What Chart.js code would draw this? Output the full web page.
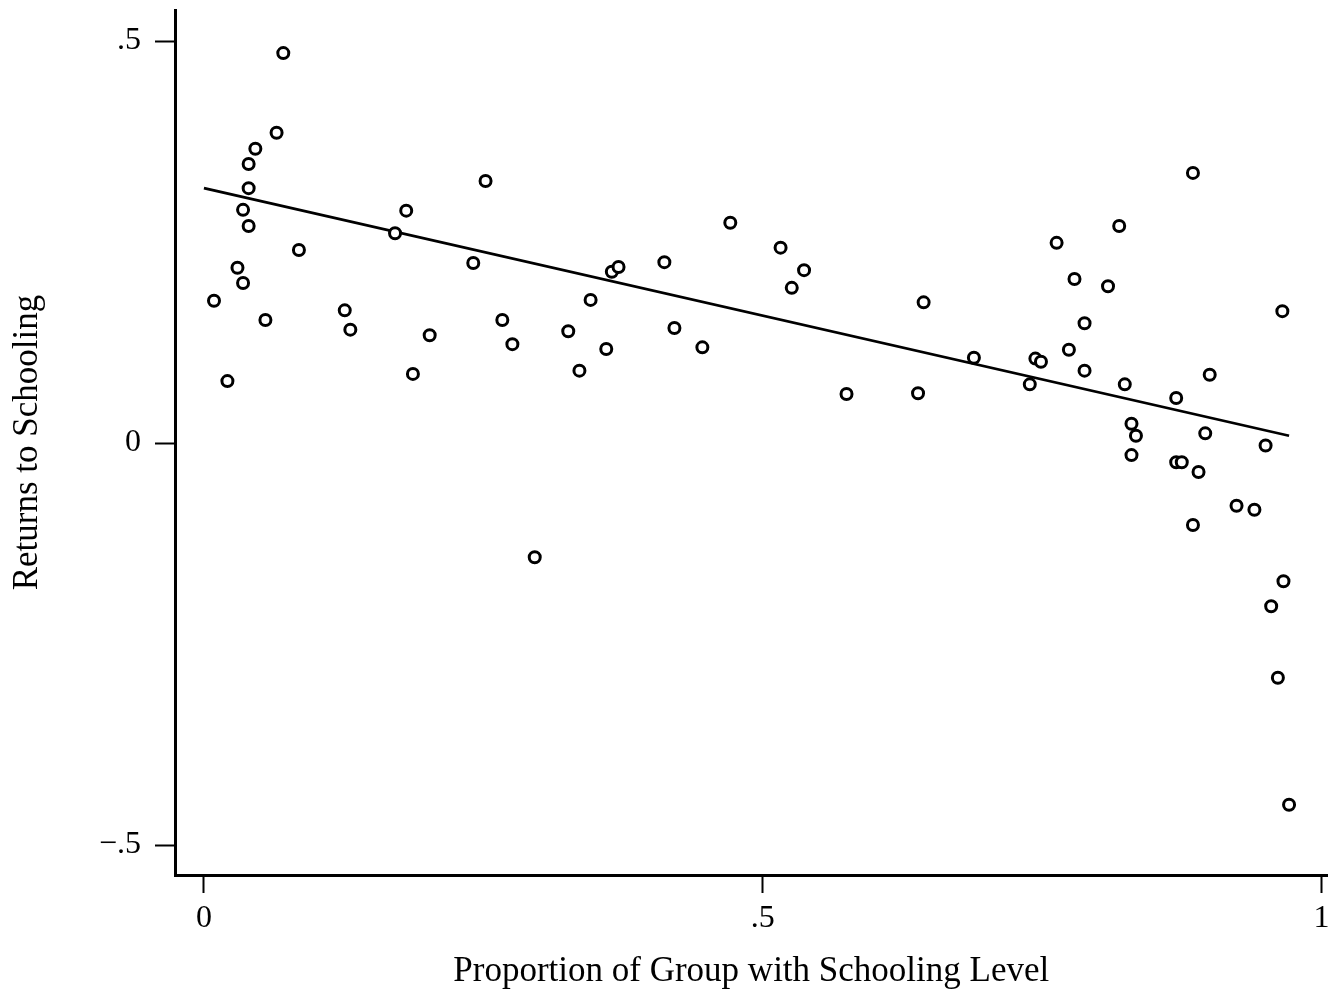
<!DOCTYPE html>
<html>
<head>
<meta charset="utf-8">
<script src="https://cdn.jsdelivr.net/npm/chart.js@4/dist/chart.umd.min.js"></script>
<style>
  html, body { margin: 0; padding: 0; background: #fff; }
  #wrap { width: 1336px; height: 993px; }
</style>
</head>
<body>
<div id="wrap"><canvas id="scatter" width="1336" height="993"></canvas></div>
<script>
// proportion of group with schooling level (x) and returns to schooling (y)
const propValues = [
    0.071, 0.065, 0.046, 0.040, 0.040, 0.035, 0.040, 0.085, 0.181, 0.171,
    0.030, 0.035, 0.009, 0.055, 0.126, 0.131, 0.202, 0.187, 0.021, 0.241,
    0.252, 0.267, 0.276, 0.326, 0.336, 0.346, 0.365, 0.371, 0.360, 0.412,
    0.421, 0.446, 0.471, 0.296, 0.516, 0.537, 0.526, 0.644, 0.575, 0.639,
    0.689, 0.744, 0.749, 0.739, 0.763, 0.779, 0.809, 0.819, 0.788, 0.774,
    0.788, 0.824, 0.900, 0.870, 0.830, 0.834, 0.896, 0.950, 0.885, 0.965,
    0.830, 0.870, 0.875, 0.890, 0.885, 0.924, 0.940, 0.966, 0.955, 0.961,
    0.971
];
const returnValues = [
    0.485, 0.386, 0.366, 0.347, 0.317, 0.290, 0.270, 0.240, 0.289, 0.261,
    0.218, 0.199, 0.177, 0.153, 0.165, 0.141, 0.134, 0.086, 0.077, 0.224,
    0.326, 0.153, 0.123, 0.139, 0.090, 0.178, 0.213, 0.219, 0.117, 0.225,
    0.143, 0.119, 0.274, -0.142, 0.243, 0.215, 0.193, 0.175, 0.061, 0.062,
    0.106, 0.105, 0.101, 0.073, 0.249, 0.204, 0.195, 0.270, 0.149, 0.116,
    0.090, 0.073, 0.085, 0.056, 0.024, 0.009, 0.012, -0.003, 0.336, 0.164,
    -0.015, -0.024, -0.024, -0.036, -0.102, -0.078, -0.083, -0.172, -0.203, -0.292,
    -0.450
];

// fitted line end points
const fitX = [0, 0.971];
const fitY = [0.317, 0.009];

const xTicks = [0, 0.5, 1];
const xTickLabels = ['0', '.5', '1'];
const yTicks = [-0.5, 0, 0.5];
const yTickLabels = ['\u2212.5', '0', '.5'];

const serif = "'Liberation Serif', 'DejaVu Serif', serif";

const points = propValues.map((x, i) => ({ x: x, y: returnValues[i] }));
const fitPoints = fitX.map((x, i) => ({ x: x, y: fitY[i] }));

const ctx = document.getElementById('scatter').getContext('2d');
new Chart(ctx, {
    type: 'scatter',
    data: {
        datasets: [
            {
                label: 'Returns',
                data: points,
                pointStyle: 'circle',
                pointRadius: 5.5,
                pointBorderWidth: 3,
                pointBorderColor: '#000',
                pointBackgroundColor: '#fff',
                order: 0
            },
            {
                type: 'line',
                label: 'Fitted',
                data: fitPoints,
                showLine: true,
                borderColor: '#000',
                borderWidth: 2.7,
                pointRadius: 0,
                fill: false,
                order: 1
            }
        ]
    },
    options: {
        responsive: false,
        animation: false,
        devicePixelRatio: 1,
        layout: {
            padding: { top: 10, right: 6, left: 0, bottom: 0 }
        },
        plugins: {
            legend: { display: false },
            tooltip: { enabled: false }
        },
        scales: {
            x: {
                type: 'linear',
                min: -0.0259,
                max: 1.0054,
                afterBuildTicks: (scale) => {
                    scale.ticks = xTicks.map(v => ({ value: v }));
                },
                afterFit: (scale) => {
                    scale.height = 118;
                    scale.paddingLeft = 0;
                    scale.paddingRight = 0;
                },
                ticks: {
                    color: '#000',
                    padding: 6,
                    maxRotation: 0,
                    font: { family: serif, size: 32 },
                    callback: (value) => xTickLabels[xTicks.indexOf(value)]
                },
                grid: {
                    drawOnChartArea: false,
                    drawTicks: true,
                    tickLength: 18,
                    tickWidth: 2,
                    tickColor: '#000'
                },
                border: { display: true, color: '#000', width: 3 },
                title: {
                    display: true,
                    text: 'Proportion of Group with Schooling Level',
                    color: '#000',
                    font: { family: serif, size: 35 },
                    padding: { top: 0, bottom: 0 }
                }
            },
            y: {
                type: 'linear',
                min: -0.5373,
                max: 0.5386,
                afterBuildTicks: (scale) => {
                    scale.ticks = yTicks.map(v => ({ value: v }));
                },
                afterFit: (scale) => {
                    scale.width = 175;
                    scale.paddingTop = 0;
                    scale.paddingBottom = 0;
                },
                ticks: {
                    color: '#000',
                    padding: 14,
                    font: { family: serif, size: 32 },
                    callback: (value) => yTickLabels[yTicks.indexOf(value)]
                },
                grid: {
                    drawOnChartArea: false,
                    drawTicks: true,
                    tickLength: 20,
                    tickWidth: 2,
                    tickColor: '#000'
                },
                border: { display: true, color: '#000', width: 3 },
                title: {
                    display: true,
                    text: 'Returns to Schooling',
                    color: '#000',
                    font: { family: serif, size: 35 },
                    padding: { top: 7, bottom: 0 }
                }
            }
        }
    }
});
</script>
</body>
</html>
